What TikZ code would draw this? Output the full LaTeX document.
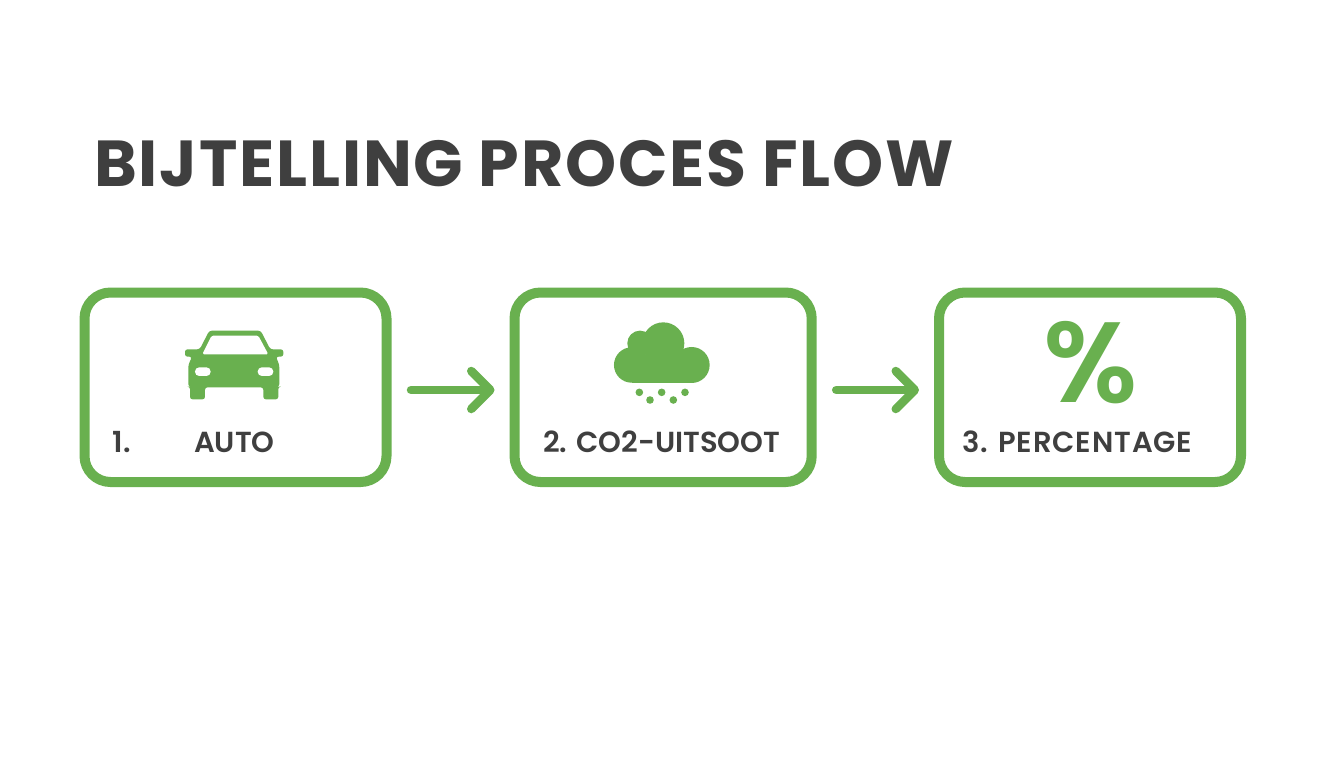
\documentclass[tikz,border=0pt]{standalone}
\usepackage{fontspec}
\usetikzlibrary{arrows.meta}
\setmainfont{Poppins}
\newfontfamily\titlefont{Poppins}[UprightFont={* Bold},LetterSpace=2.8]
\newfontfamily\labelfont{Poppins}[UprightFont={* SemiBold}]
\definecolor{lgreen}{HTML}{69B04F}
\definecolor{ink}{HTML}{3F3F3F}
\tikzset{
  card/.style={draw=lgreen,line width=10pt,rounded corners=26pt,fill=white,inner sep=0pt,anchor=north west,minimum height=189.5pt},
  lab/.style={anchor=base west,inner sep=0pt,text=ink,font=\labelfont\fontsize{29}{32}\selectfont},
  flow/.style={draw=lgreen,line width=8.5pt,line cap=round,shorten <=19.5pt,shorten >=15pt,-{Straight Barb[length=19pt,width=38pt,round]}},
  icon/.style={fill=lgreen,draw=none},
  hole/.style={fill=white,draw=none},
}
\begin{document}
\begin{tikzpicture}[x=1pt,y=-1pt]
\useasboundingbox (0,0) rectangle (1344,768);
\node[anchor=base west,inner sep=0pt,text=ink,font=\titlefont\fontsize{65}{70}\selectfont] (title) at (94,186.5) {BIJTELLING PROCES FLOW};
\node[card,minimum width=302pt] (b1) at (79.5,287.5) {};
\node[card,minimum width=297.2pt] (b2) at (509.5,287.5) {};
\node[card,minimum width=302pt] (b3) at (934,287.5) {};
\draw[flow] ([yshift=-2.75pt]b1.east) -- ([yshift=-2.75pt]b2.west);
\draw[flow] ([yshift=-2.75pt]b2.east) -- ([yshift=-2.75pt]b3.west);
% car
\begin{scope}[shift={(170,320)},x=0.3333pt,y=-0.3333pt]
\fill[icon,rounded corners=2.5pt] (118,32) -- (272,32) -- (301,88) -- (340,88) -- (340,110) -- (318,110) -- (328,135) -- (328,200) -- (325,200) -- (325,238) -- (280,238) -- (280,202) -- (105,202) -- (105,238) -- (60,238) -- (60,200) -- (55,200) -- (55,135) -- (66,110) -- (45,110) -- (45,88) -- (89,88) -- cycle;
\fill[hole,rounded corners=1.5pt] (125,47) -- (265,47) -- (295,103) -- (97,103) -- cycle;
\fill[hole,rounded corners=4.2pt] (75,142) rectangle (122,168);
\fill[hole,rounded corners=4.2pt] (263,142) rectangle (310,168);
\end{scope}
% cloud
\begin{scope}[shift={(600,315)},x=0.3333pt,y=-0.3333pt]
\fill[icon] (190,85) circle[radius=21pt];
\fill[icon] (120,85) circle[radius=12.7pt];
\fill[icon] (275,150) circle[radius=18pt];
\fill[icon] (95,150) circle[radius=17.7pt];
\fill[icon] (95,120) rectangle (275,203);
\foreach \px/\py in {118/232,150/255,185/232,220/255,255/232}
  \fill[icon] (\px,\py) circle[radius=3.8pt];
\end{scope}
\node[anchor=center,inner sep=0pt,text=lgreen,font=\labelfont\fontsize{114}{116}\selectfont] (pct) at (1090.5,363) {\%};
\node[lab] (n1) at (112.7,452) {1.};
\node[lab] (l1) at (194,452) {AUTO};
\node[lab] (l2) at (543,452) {2. CO2-UITSOOT};
\node[lab,font=\labelfont\fontsize{29}{32}\selectfont\addfontfeature{LetterSpace=3.1}] (l3) at (962,452) {3. PERCENTAGE};
\end{tikzpicture}
\end{document}
